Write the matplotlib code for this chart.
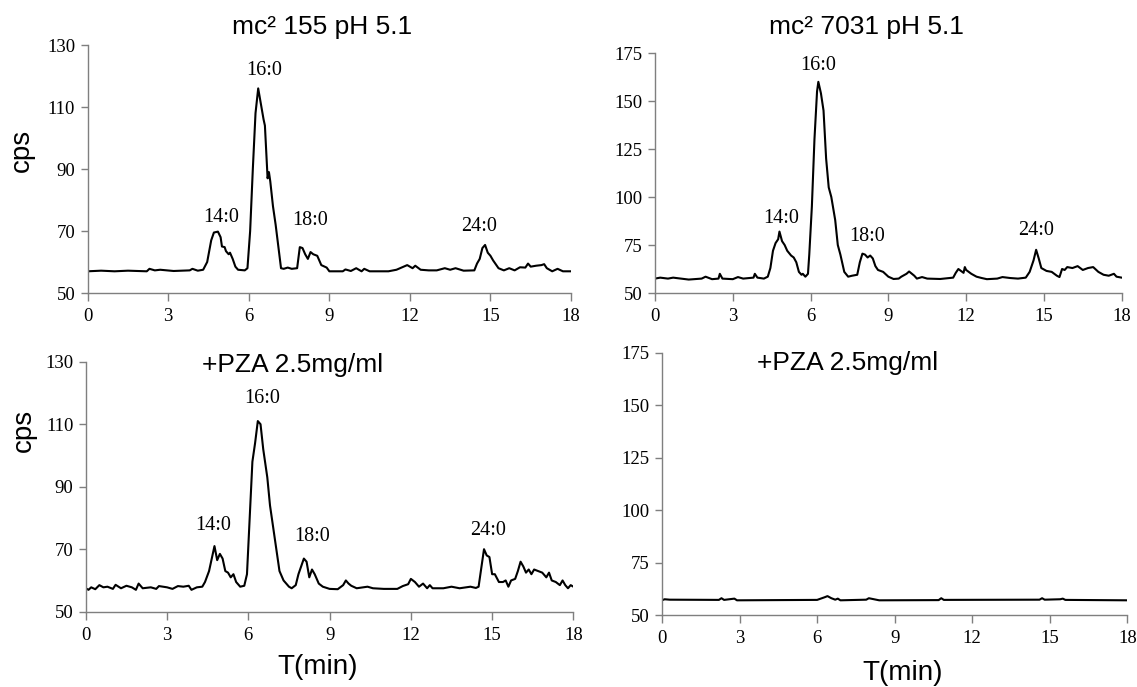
import matplotlib
matplotlib.use("Agg")
import matplotlib.pyplot as plt

# ---------------- data ----------------
t_a = [0, 0.5, 1.0, 1.5, 2.2, 2.3, 2.5, 2.7, 3.2, 3.8, 3.9, 4.1, 4.3, 4.45, 4.6, 4.7, 4.85, 4.95, 5.0, 5.1, 5.15, 5.25, 5.3, 5.4, 5.5,
       5.6, 5.85, 5.95, 6.05, 6.15, 6.25, 6.35, 6.45, 6.55, 6.6, 6.7, 6.75, 6.8, 6.9, 7.0, 7.1, 7.2, 7.3, 7.45, 7.6, 7.8,
       7.9, 8.0, 8.1, 8.2, 8.3, 8.4, 8.55, 8.7, 8.9, 9.0, 9.5, 9.6, 9.8, 10.0, 10.2, 10.3, 10.5, 11.2, 11.5, 11.9, 12.0,
       12.1, 12.2, 12.4, 12.7, 13.0, 13.3, 13.5, 13.7, 14.0, 14.4, 14.5, 14.6, 14.7, 14.8, 14.9, 15.0, 15.1, 15.3, 15.5, 15.7,
       15.9, 16.1, 16.3, 16.4, 16.5, 16.7, 16.9, 17.0, 17.1, 17.3, 17.5, 17.7, 18.0]
y_a = [57, 57.2, 57, 57.2, 57, 57.8, 57.3, 57.5, 57.1, 57.3, 57.8, 57.2, 57.5, 60, 67, 69.5, 69.8, 68, 65, 64.8, 63.5, 62.5, 63, 61, 58.5,
       57.5, 57.3, 58, 70, 90, 108, 116, 111, 106, 104, 87, 89, 86, 78, 72, 65, 58, 57.8, 58.2, 57.8, 58,
       64.8, 64.5, 62.5, 61, 63.2, 62.5, 62, 59, 58.2, 57, 57, 57.6, 57.1, 58, 57, 57.8, 57, 57, 57.5, 59, 58.5,
       58, 58.8, 57.5, 57.3, 57.3, 58, 57.5, 58, 57.2, 57.3, 59.5, 61, 64.5, 65.5, 63, 62, 60.5, 58, 57.3, 58,
       57.3, 58.3, 58.2, 59.5, 58.5, 58.8, 59, 59.3, 58, 57, 57.8, 57, 57]

t_b = [0, 0.2, 0.5, 0.7, 1.0, 1.3, 1.8, 1.95, 2.2, 2.45, 2.5, 2.6, 3.0, 3.2, 3.4, 3.8, 3.85, 3.95, 4.2, 4.35,
       4.45, 4.55, 4.65, 4.75, 4.8, 4.9, 5.0, 5.1, 5.25, 5.35, 5.45, 5.55, 5.65, 5.7, 5.8, 5.9, 5.95, 6.05, 6.15, 6.25,
       6.3, 6.4, 6.5, 6.6, 6.7, 6.8, 6.95, 7.05, 7.15, 7.3, 7.45, 7.6, 7.8, 7.9, 8.0, 8.1, 8.2, 8.3, 8.4, 8.5,
       8.6, 8.8, 9.0, 9.2, 9.4, 9.5, 9.7, 9.8, 10.0, 10.1, 10.3, 10.5, 11.0, 11.5, 11.6, 11.7, 11.8, 11.9, 11.95, 12.0,
       12.2, 12.4, 12.6, 12.8, 13.2, 13.4, 13.7, 14.0, 14.3, 14.45, 14.6, 14.7, 14.8, 14.9, 15.1, 15.3, 15.5, 15.6, 15.7, 15.8,
       15.9, 16.1, 16.3, 16.5, 16.7, 16.9, 17.1, 17.3, 17.5, 17.7, 17.8, 18.0]
y_b = [57.5, 58, 57.5, 58, 57.5, 57, 57.5, 58.5, 57.2, 57.5, 60, 57.5, 57.2, 58.3, 57.5, 58, 60, 58, 57.5, 58.5,
       63, 72, 76, 78, 82, 77, 75, 72, 69.5, 68.5, 66, 61, 59.5, 60, 58.5, 60, 70, 95, 130, 155,
       160, 154, 145, 120, 105, 100, 88, 75, 70, 61, 58.5, 59, 59.5, 66, 70.5, 70, 68.5, 69.5, 68, 64,
       62, 61, 58.5, 57.3, 57.5, 58.5, 60, 61.2, 59, 57.5, 58.3, 57.5, 57.3, 58, 60.5, 62.5, 61.5, 60.5, 63.5, 62,
       60, 58.5, 57.8, 57.2, 57.5, 58.3, 57.8, 57.5, 58, 61, 67, 72.5, 68, 63, 61.5, 61, 59, 58.3, 62.5, 62,
       63.5, 63, 64, 62, 63, 63.5, 61, 59.5, 59, 60, 58.5, 58]

t_c = [0, 0.1, 0.2, 0.35, 0.5, 0.65, 0.8, 1.0, 1.1, 1.3, 1.5, 1.7, 1.85, 1.95, 2.1, 2.4, 2.6, 2.7, 3.0, 3.2,
       3.4, 3.6, 3.8, 3.9, 4.1, 4.3, 4.4, 4.55, 4.65, 4.75, 4.85, 4.95, 5.05, 5.15, 5.25, 5.35, 5.45, 5.55, 5.7, 5.85,
       5.95, 6.05, 6.15, 6.25, 6.35, 6.45, 6.55, 6.7, 6.8, 6.9, 7.05, 7.15, 7.3, 7.5, 7.6, 7.75, 7.85, 7.95, 8.05, 8.15,
       8.25, 8.35, 8.45, 8.6, 8.75, 9.0, 9.3, 9.5, 9.6, 9.7, 9.8, 10.0, 10.4, 10.6, 11.0, 11.5, 11.7, 11.9, 12.0, 12.15,
       12.3, 12.45, 12.6, 12.7, 12.8, 13.2, 13.5, 13.8, 14.2, 14.4, 14.5, 14.6, 14.7, 14.8, 14.9, 15.0, 15.1, 15.25, 15.4, 15.5,
       15.6, 15.7, 15.85, 15.95, 16.05, 16.15, 16.25, 16.35, 16.45, 16.55, 16.7, 16.85, 17.0, 17.1, 17.2, 17.35, 17.5, 17.6, 17.7, 17.8,
       17.9, 18.0]
y_c = [57.5, 57, 57.8, 57.2, 58.5, 57.8, 58, 57.3, 58.6, 57.5, 58.3, 57.8, 57, 59, 57.5, 57.8, 57.3, 58.2, 57.8, 57.3,
       58.2, 58, 58.3, 57, 57.8, 58, 59.5, 63, 67, 71, 66.5, 68.5, 67, 63, 62.5, 61, 62, 59.5, 58, 58.3,
       62, 80, 98, 104, 111, 110, 102, 93, 84, 78, 69, 63, 60, 58, 57.5, 58.5, 62, 64.5, 67, 66,
       61, 63.5, 62, 59, 58, 57.3, 57.2, 58.5, 60, 59, 58.3, 57.5, 58, 57.5, 57.3, 57.3, 58.2, 58.8, 60.5, 59.5,
       58, 59, 57.5, 58.5, 57.5, 57.5, 58, 57.5, 58, 57.6, 58, 64, 70, 68, 67.5, 62, 62, 59.5, 59.5, 60,
       58, 60, 60.5, 63, 66, 64.5, 62.5, 63.5, 62, 63.5, 63, 62.5, 61, 62.5, 60, 59.5, 58.5, 60, 58.5, 57.5,
       58.5, 58]

t_d = [0, 0.1, 0.3, 2.2, 2.3, 2.4, 2.8, 2.9, 6.0, 6.3, 6.4, 6.55, 6.7, 6.8, 6.9, 7.9, 8.0, 8.2, 8.4, 10.7,
       10.8, 10.9, 14.6, 14.7, 14.8, 15.4, 15.5, 15.6, 18.0]
y_d = [57, 57.5, 57.3, 57.2, 58, 57.2, 57.8, 57, 57.2, 58.5, 59, 58, 57.3, 57.8, 57, 57.3, 58, 57.5, 57, 57.1,
       58, 57.2, 57.3, 58, 57.3, 57.5, 57.8, 57.2, 57]

peak_names = ["14:0", "16:0", "18:0", "24:0"]
lab_a = [(4.97, 74.5), (6.58, 121.9), (8.3, 73.5), (14.57, 71.3)]
lab_b = [(4.85, 89), (6.29, 168.5), (8.18, 79.2), (14.71, 82.8)]
lab_c = [(4.69, 77.7), (6.5, 118.3), (8.35, 74.0), (14.86, 76.1)]

x_ticks = [0, 3, 6, 9, 12, 15, 18]
y_ticks_left = [50, 70, 90, 110, 130]
y_ticks_right = [50, 75, 100, 125, 150, 175]

# ---------------- figure ----------------
W, H = 1137, 687
fig = plt.figure(figsize=(W / 100, H / 100), dpi=100)

def rect(l, r, top, bot):
    return [l / W, 1 - bot / H, (r - l) / W, (bot - top) / H]

ax_a = fig.add_axes(rect(87.7, 571, 45, 293))
ax_b = fig.add_axes(rect(655, 1121.7, 53, 293))
ax_c = fig.add_axes(rect(85.8, 573.4, 361.7, 611.7))
ax_d = fig.add_axes(rect(662, 1127.4, 352.7, 615))

serif = ["Liberation Serif", "DejaVu Serif"]
sans = ["Liberation Sans", "DejaVu Sans"]
spine_col = "#7f7f7f"

def style(ax, yt):
    ax.set_xlim(0, 18)
    ax.set_ylim(yt[0], yt[-1])
    ax.set_xticks(x_ticks)
    ax.set_yticks(yt)
    for s in ("top", "right"):
        ax.spines[s].set_visible(False)
    for s in ("left", "bottom"):
        ax.spines[s].set_color(spine_col)
        ax.spines[s].set_linewidth(1.0)
    ax.tick_params(axis="x", direction="out", length=6, width=1, color=spine_col, pad=5)
    ax.tick_params(axis="y", direction="out", length=5, width=1, color=spine_col, pad=4)
    for lab in ax.get_xticklabels() + ax.get_yticklabels():
        lab.set_fontfamily(serif)
        lab.set_fontsize(13.5)
    ax.set_facecolor("none")

for ax, t, y, yt in [(ax_a, t_a, y_a, y_ticks_left), (ax_b, t_b, y_b, y_ticks_right),
                     (ax_c, t_c, y_c, y_ticks_left), (ax_d, t_d, y_d, y_ticks_right)]:
    ax.plot(t, y, color="black", lw=1.5, solid_joinstyle="round")
    style(ax, yt)

for ax, labs in [(ax_a, lab_a), (ax_b, lab_b), (ax_c, lab_c)]:
    for name, (x, yv) in zip(peak_names, labs):
        ax.text(x, yv, name, ha="center", va="center", fontsize=14.5, family=serif)

# titles
fig.text(322 / W, 1 - 26.7 / H, "mc\u00b2 155 pH 5.1", ha="center", va="center", fontsize=19, family=sans)
fig.text(866 / W, 1 - 26.7 / H, "mc\u00b2 7031 pH 5.1", ha="center", va="center", fontsize=19, family=sans)
ax_c.text(7.62, 129, "+PZA 2.5mg/ml", ha="center", va="center", fontsize=19, family=sans)
ax_d.text(7.17, 170, "+PZA 2.5mg/ml", ha="center", va="center", fontsize=19, family=sans)

# axis labels
fig.text(22 / W, 1 - 150 / H, "cps", rotation=90, ha="center", va="center", fontsize=20, family=sans)
fig.text(24 / W, 1 - 430 / H, "cps", rotation=90, ha="center", va="center", fontsize=20, family=sans)
fig.text(318 / W, 1 - 667 / H, "T(min)", ha="center", va="center", fontsize=20, family=sans)
fig.text(903 / W, 1 - 673 / H, "T(min)", ha="center", va="center", fontsize=20, family=sans)

fig.savefig("out.png", dpi=100)
